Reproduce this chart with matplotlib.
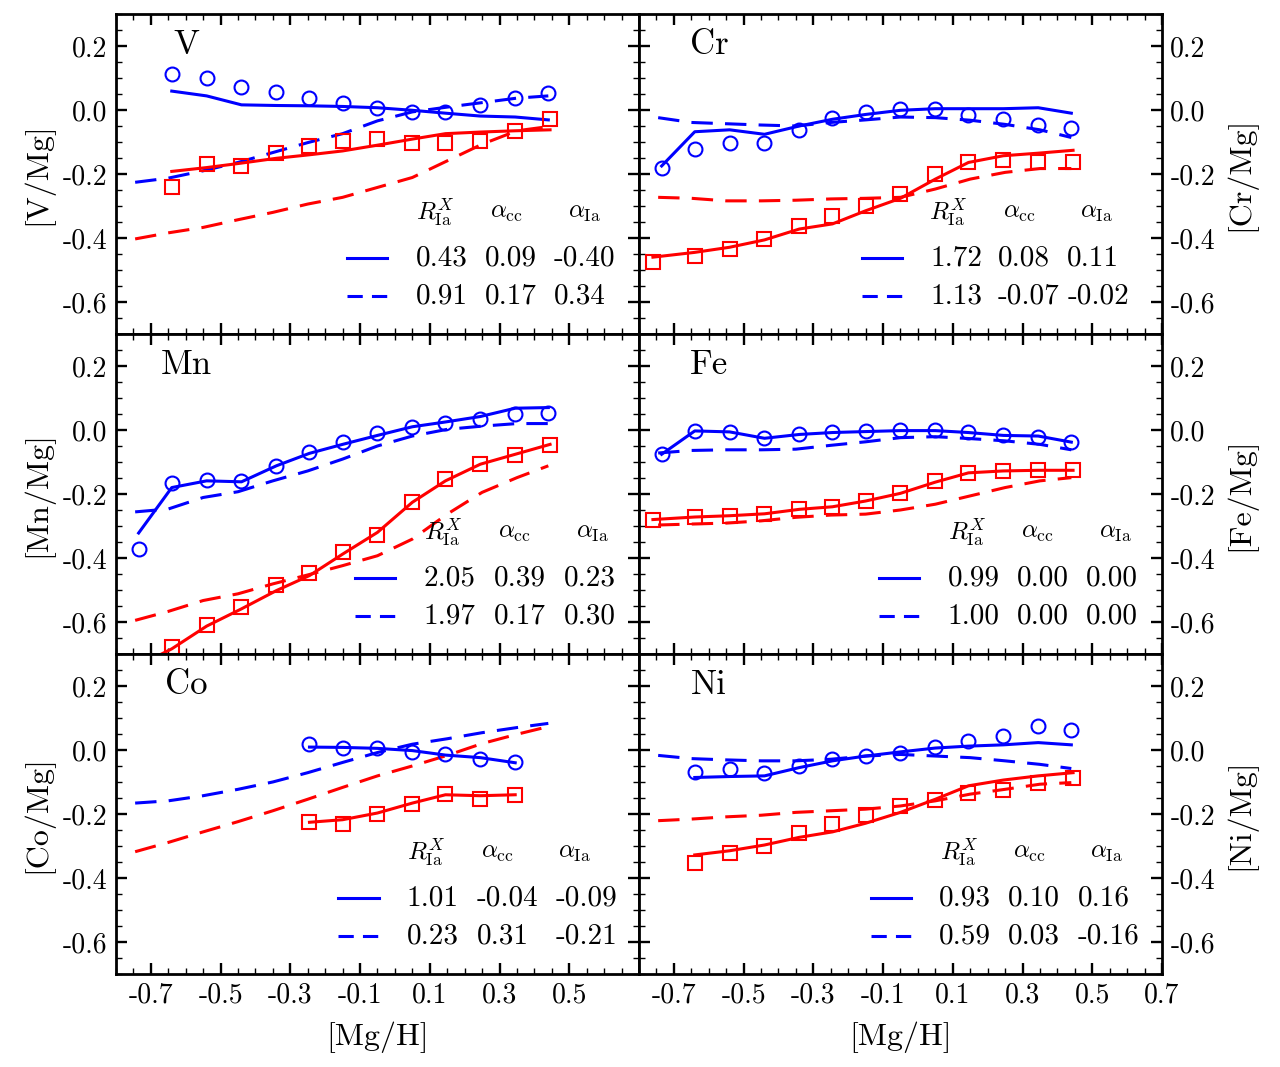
import numpy as np
import matplotlib
matplotlib.use('Agg')
import matplotlib.pyplot as plt
from matplotlib.ticker import MultipleLocator, FormatStrFormatter, FixedLocator

plt.rcParams['font.family'] = 'serif'
plt.rcParams['font.serif'] = ['cmr10']
plt.rcParams['mathtext.fontset'] = 'cm'
plt.rcParams['axes.unicode_minus'] = False

nan = np.nan

# bin centres in [Mg/H]
x_hi = [-0.735, -0.64, -0.54, -0.44, -0.34, -0.245, -0.15, -0.05, 0.05, 0.145, 0.245, 0.345, 0.44]
x_lo = [-0.76, -0.64, -0.54, -0.44, -0.34, -0.245, -0.15, -0.05, 0.05, 0.145, 0.245, 0.345, 0.445]
x_alt = [-0.745, -0.65, -0.55, -0.45, -0.35, -0.25, -0.15, -0.05, 0.05, 0.15, 0.25, 0.35, 0.44]

# ---- V ----
v_obs_hi = [nan, 0.111, 0.101, 0.073, 0.057, 0.038, 0.023, 0.005, -0.006, -0.006, 0.016, 0.038, 0.054]
v_fit_hi = [nan, 0.059, 0.044, 0.016, 0.014, 0.013, 0.011, 0.007, -0.001, -0.010, -0.019, -0.022, -0.031]
v_alt_hi = [-0.226, -0.213, -0.190, -0.164, -0.133, -0.102, -0.074, -0.034, -0.006, 0.009, 0.023, 0.037, 0.044]
v_obs_lo = [nan, -0.242, -0.169, -0.175, -0.133, -0.112, -0.097, -0.091, -0.104, -0.104, -0.097, -0.065, -0.029]
v_fit_lo = [nan, -0.192, -0.180, -0.166, -0.151, -0.140, -0.128, -0.110, -0.091, -0.074, -0.069, -0.065, -0.062]
v_alt_lo = [-0.403, -0.384, -0.367, -0.343, -0.320, -0.294, -0.273, -0.242, -0.211, -0.159, -0.107, -0.065, -0.052]
v_par_fit = [0.43, 0.09, -0.40]
v_par_alt = [0.91, 0.17, 0.34]

# ---- Cr ----
cr_obs_hi = [-0.182, -0.121, -0.102, -0.102, -0.062, -0.026, -0.005, 0.002, 0.002, -0.017, -0.029, -0.047, -0.057]
cr_fit_hi = [-0.175, -0.068, -0.062, -0.076, -0.050, -0.029, -0.014, -0.001, 0.004, 0.004, 0.004, 0.007, -0.010]
cr_alt_hi = [-0.024, -0.039, -0.043, -0.047, -0.050, -0.039, -0.031, -0.022, -0.024, -0.032, -0.045, -0.062, -0.086]
cr_obs_lo = [-0.476, -0.457, -0.434, -0.403, -0.362, -0.332, -0.301, -0.263, -0.200, -0.162, -0.156, -0.162, -0.164]
cr_fit_lo = [-0.460, -0.445, -0.429, -0.406, -0.372, -0.356, -0.315, -0.276, -0.216, -0.164, -0.143, -0.135, -0.126]
cr_alt_lo = [-0.273, -0.276, -0.284, -0.284, -0.282, -0.278, -0.276, -0.273, -0.247, -0.216, -0.195, -0.183, -0.183]
cr_par_fit = [1.72, 0.08, 0.11]
cr_par_alt = [1.13, -0.07, -0.02]

# ---- Mn ----
mn_obs_hi = [-0.372, -0.167, -0.156, -0.159, -0.112, -0.069, -0.039, -0.011, 0.010, 0.023, 0.033, 0.049, 0.054]
mn_fit_hi = [-0.322, -0.180, -0.159, -0.162, -0.112, -0.073, -0.045, -0.017, 0.010, 0.025, 0.042, 0.068, 0.070]
mn_alt_hi = [-0.256, -0.247, -0.211, -0.193, -0.159, -0.128, -0.091, -0.050, -0.019, 0.002, 0.012, 0.020, 0.020]
mn_obs_lo = [nan, -0.678, -0.609, -0.552, -0.486, -0.448, -0.380, -0.328, -0.226, -0.154, -0.107, -0.079, -0.047]
mn_fit_lo = [-0.750, -0.684, -0.613, -0.559, -0.502, -0.455, -0.388, -0.320, -0.226, -0.159, -0.107, -0.076, -0.045]
mn_alt_lo = [-0.595, -0.567, -0.533, -0.512, -0.481, -0.453, -0.424, -0.393, -0.341, -0.263, -0.195, -0.149, -0.112]
mn_par_fit = [2.05, 0.39, 0.23]
mn_par_alt = [1.97, 0.17, 0.30]

# ---- Fe ----
fe_obs_hi = [-0.076, -0.003, -0.006, -0.026, -0.014, -0.006, -0.003, 0.000, 0.000, -0.006, -0.017, -0.021, -0.039]
fe_fit_hi = [-0.076, -0.003, -0.006, -0.026, -0.014, -0.008, -0.005, -0.002, -0.002, -0.008, -0.017, -0.019, -0.038]
fe_alt_hi = [-0.072, -0.064, -0.062, -0.062, -0.060, -0.048, -0.037, -0.024, -0.021, -0.027, -0.034, -0.045, -0.062]
fe_obs_lo = [-0.281, -0.273, -0.270, -0.263, -0.247, -0.242, -0.223, -0.198, -0.161, -0.133, -0.128, -0.126, -0.126]
fe_fit_lo = [-0.280, -0.272, -0.268, -0.262, -0.248, -0.240, -0.222, -0.198, -0.163, -0.134, -0.128, -0.126, -0.126]
fe_alt_lo = [-0.297, -0.294, -0.291, -0.284, -0.273, -0.266, -0.263, -0.250, -0.232, -0.206, -0.180, -0.159, -0.149]
fe_par_fit = [0.99, 0.00, 0.00]
fe_par_alt = [1.00, 0.00, 0.00]

# ---- Co ----
co_obs_hi = [nan, nan, nan, nan, nan, 0.018, 0.007, 0.005, -0.006, -0.014, -0.029, -0.039, nan]
co_fit_hi = [nan, nan, nan, nan, nan, 0.009, 0.008, 0.005, -0.002, -0.016, -0.024, -0.040, nan]
co_alt_hi = [-0.166, -0.159, -0.143, -0.123, -0.100, -0.071, -0.039, -0.008, 0.018, 0.035, 0.054, 0.070, 0.083]
co_obs_lo = [nan, nan, nan, nan, nan, -0.226, -0.232, -0.200, -0.169, -0.138, -0.154, -0.140, nan]
co_fit_lo = [nan, nan, nan, nan, nan, -0.226, -0.218, -0.197, -0.166, -0.140, -0.143, -0.140, nan]
co_alt_lo = [-0.318, -0.289, -0.256, -0.224, -0.190, -0.154, -0.117, -0.081, -0.050, -0.017, 0.020, 0.049, 0.073]
co_par_fit = [1.01, -0.04, -0.09]
co_par_alt = [0.23, 0.31, -0.21]

# ---- Ni ----
ni_obs_hi = [nan, -0.068, -0.060, -0.071, -0.050, -0.029, -0.019, -0.008, 0.009, 0.028, 0.044, 0.075, 0.062]
ni_fit_hi = [nan, -0.086, -0.083, -0.081, -0.055, -0.034, -0.019, -0.006, 0.006, 0.012, 0.016, 0.023, 0.016]
ni_alt_hi = [-0.017, -0.027, -0.031, -0.034, -0.034, -0.029, -0.019, -0.014, -0.019, -0.024, -0.034, -0.045, -0.058]
ni_obs_lo = [nan, -0.353, -0.322, -0.301, -0.260, -0.232, -0.204, -0.175, -0.156, -0.135, -0.125, -0.102, -0.089]
ni_fit_lo = [nan, -0.328, -0.315, -0.297, -0.273, -0.256, -0.229, -0.195, -0.154, -0.112, -0.094, -0.081, -0.071]
ni_alt_lo = [-0.221, -0.216, -0.209, -0.204, -0.195, -0.190, -0.185, -0.175, -0.159, -0.138, -0.123, -0.107, -0.102]
ni_par_fit = [0.93, 0.10, 0.16]
ni_par_alt = [0.59, 0.03, -0.16]

elements = ['V', 'Cr', 'Mn', 'Fe', 'Co', 'Ni']
series = {
    'V': (v_obs_hi, v_fit_hi, v_alt_hi, v_obs_lo, v_fit_lo, v_alt_lo, v_par_fit, v_par_alt),
    'Cr': (cr_obs_hi, cr_fit_hi, cr_alt_hi, cr_obs_lo, cr_fit_lo, cr_alt_lo, cr_par_fit, cr_par_alt),
    'Mn': (mn_obs_hi, mn_fit_hi, mn_alt_hi, mn_obs_lo, mn_fit_lo, mn_alt_lo, mn_par_fit, mn_par_alt),
    'Fe': (fe_obs_hi, fe_fit_hi, fe_alt_hi, fe_obs_lo, fe_fit_lo, fe_alt_lo, fe_par_fit, fe_par_alt),
    'Co': (co_obs_hi, co_fit_hi, co_alt_hi, co_obs_lo, co_fit_lo, co_alt_lo, co_par_fit, co_par_alt),
    'Ni': (ni_obs_hi, ni_fit_hi, ni_alt_hi, ni_obs_lo, ni_fit_lo, ni_alt_lo, ni_par_fit, ni_par_alt),
}

# table layout (axes fraction): value columns, header centres
table_cols = {'V': (0.573, 0.705, 0.837), 'Cr': (0.557, 0.686, 0.819),
              'Mn': (0.588, 0.722, 0.856), 'Fe': (0.590, 0.722, 0.855),
              'Co': (0.556, 0.690, 0.840), 'Ni': (0.574, 0.706, 0.839)}
table_heads = {'V': (0.610, 0.746, 0.895), 'Cr': (0.592, 0.727, 0.874),
               'Mn': (0.626, 0.762, 0.912), 'Fe': (0.628, 0.763, 0.911),
               'Co': (0.594, 0.730, 0.876), 'Ni': (0.612, 0.746, 0.894)}
head_txt = [r'$R^{X}_{\rm Ia}$', r'$\alpha_{\rm cc}$', r'$\alpha_{\rm Ia}$']

BLUE = '#0000ff'
RED = '#ff0000'
LW = 2.2
DASH = (0, (7, 4))
KEY_DASH = (0, (5, 3))

fig = plt.figure(figsize=(12.8, 10.67), dpi=100)
axes = fig.subplots(3, 2)
fig.subplots_adjust(left=0.0906, right=0.9078, top=0.9869, bottom=0.0872,
                    wspace=0, hspace=0)

for k, el in enumerate(elements):
    row, col = divmod(k, 2)
    ax = axes[row, col]
    obs_hi, fit_hi, alt_hi, obs_lo, fit_lo, alt_lo, pfit, palt = series[el]

    ax.plot(x_alt, alt_lo, color=RED, lw=LW, ls=DASH)
    ax.plot(x_alt, alt_hi, color=BLUE, lw=LW, ls=DASH)
    ax.plot(x_lo, fit_lo, color=RED, lw=LW)
    ax.plot(x_hi, fit_hi, color=BLUE, lw=LW)
    ax.plot(x_lo, obs_lo, ls='none', marker='s', ms=10, mfc='none', mec=RED, mew=1.5)
    ax.plot(x_hi, obs_hi, ls='none', marker='o', ms=10, mfc='none', mec=BLUE, mew=1.5)

    ax.set_xlim(-0.8, 0.7)
    ax.set_ylim(-0.7, 0.3)
    if col == 0:
        ax.xaxis.set_major_locator(FixedLocator(np.round(np.arange(-0.7, 0.51, 0.2), 1)))
    else:
        ax.xaxis.set_major_locator(FixedLocator(np.round(np.arange(-0.7, 0.71, 0.2), 1)))
    ax.xaxis.set_minor_locator(MultipleLocator(0.05))
    ax.yaxis.set_major_locator(MultipleLocator(0.2))
    ax.yaxis.set_minor_locator(MultipleLocator(0.05))
    ax.xaxis.set_major_formatter(FormatStrFormatter('%.1f'))
    ax.yaxis.set_major_formatter(FormatStrFormatter('%.1f'))

    ax.tick_params(which='both', direction='in', top=True, bottom=True,
                   left=True, right=True, labelsize=20, pad=6)
    ax.tick_params(which='major', length=8, width=1.7)
    ax.tick_params(which='minor', length=4, width=1.0)
    for sp in ax.spines.values():
        sp.set_linewidth(2.0)

    if row < 2:
        ax.tick_params(labelbottom=False)
    else:
        ax.set_xlabel('[Mg/H]', fontsize=23, labelpad=9)

    if col == 1:
        ax.yaxis.set_label_position('right')
        ax.tick_params(labelleft=False, labelright=True)
    ax.set_ylabel('[%s/Mg]' % el, fontsize=23, labelpad=7)

    ax.text(0.134, 0.903, el, transform=ax.transAxes, fontsize=25,
            ha='center', va='center')

    cols = table_cols[el]
    heads = table_heads[el]
    for hx, ht in zip(heads, head_txt):
        ax.text(hx, 0.378, ht, transform=ax.transAxes, fontsize=18,
                ha='center', va='center')
    for yy, vals, ls in [(0.2375, pfit, '-'), (0.119, palt, KEY_DASH)]:
        ax.plot([cols[0] - 0.131, cols[0] - 0.054], [yy, yy], transform=ax.transAxes,
                color=BLUE, lw=LW, ls=ls, clip_on=False)
        for cx, v in zip(cols, vals):
            ax.text(cx, yy, '%.2f' % v, transform=ax.transAxes, fontsize=21,
                    ha='left', va='center')

fig.savefig('out.png', dpi=100)
